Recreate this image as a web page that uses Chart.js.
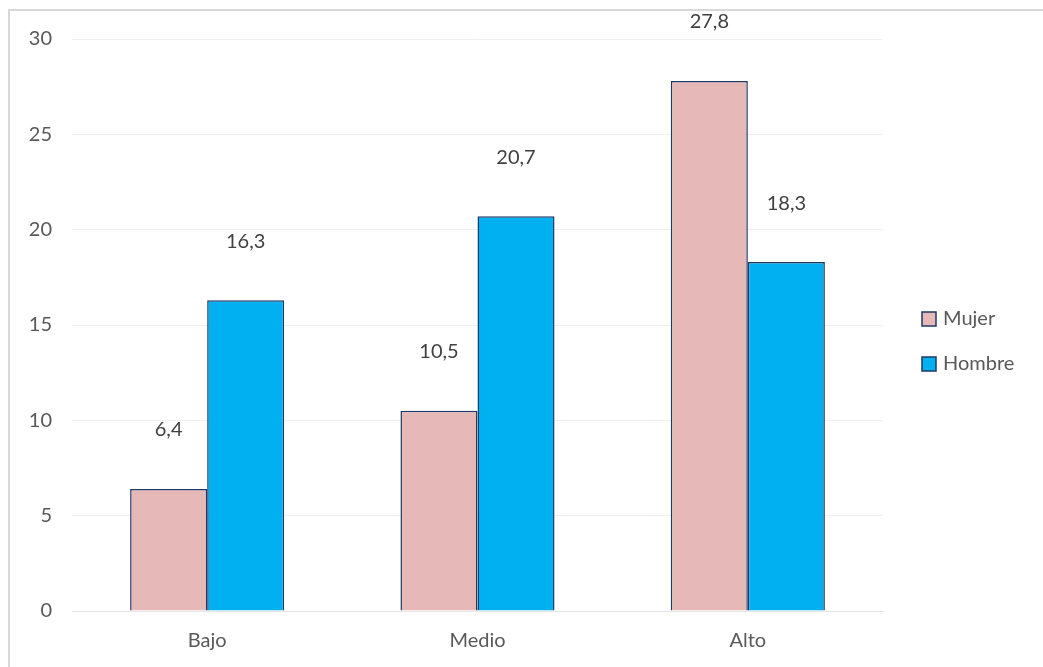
<!DOCTYPE html>
<html>
<head>
<meta charset="utf-8">
<script src="https://cdn.jsdelivr.net/npm/chart.js@4"></script>
<style>
html,body{margin:0;padding:0;background:#fff;}
#wrap{position:relative;width:1043px;height:667px;overflow:hidden;}
#frame{position:absolute;left:8px;top:9px;width:1100px;height:700px;border-left:2px solid #d9d9d9;border-top:2px solid #d9d9d9;box-sizing:border-box;}
canvas{position:absolute;left:0;top:0;}
</style>
</head>
<body>
<div id="wrap"><div id="frame"></div><canvas id="c" width="1043" height="667"></canvas></div>
<script>
const categories = ["Bajo", "Medio", "Alto"];
const seriesNames = ["Mujer", "Hombre"];
const mujer = [6.4, 10.5, 27.8];
const hombre = [16.3, 20.7, 18.3];
const yTicks = [0, 5, 10, 15, 20, 25, 30];

const FONT = "Lato, 'Noto Sans', sans-serif";
const colors = ["#E6B9B8", "#00B0F0"];
const borderCol = "#1F3864";

const labelPlugin = {
  id: "valueLabels",
  afterDatasetsDraw(chart) {
    const ctx = chart.ctx;
    ctx.save();
    ctx.font = "20px " + FONT;
    ctx.fillStyle = "#404040";
    ctx.textAlign = "center";
    ctx.textBaseline = "middle";
    chart.data.datasets.forEach((ds, i) => {
      const meta = chart.getDatasetMeta(i);
      meta.data.forEach((bar, j) => {
        const txt = ds.data[j].toFixed(1).replace(".", ",");
        ctx.fillText(txt, bar.x, bar.y - 59);
      });
    });
    ctx.restore();
  }
};

const legendPlugin = {
  id: "customLegend",
  afterDraw(chart) {
    const ctx = chart.ctx;
    ctx.save();
    ctx.font = "20px " + FONT;
    ctx.textBaseline = "middle";
    ctx.textAlign = "left";
    chart.data.datasets.forEach((ds, i) => {
      const y = 319 + i * 45;
      ctx.fillStyle = ds.backgroundColor;
      ctx.fillRect(922, y - 7, 14, 14);
      ctx.strokeStyle = borderCol;
      ctx.lineWidth = 1.5;
      ctx.strokeRect(922, y - 7, 14, 14);
      ctx.fillStyle = "#595959";
      ctx.fillText(ds.label, 943, y);
    });
    ctx.restore();
  }
};

new Chart(document.getElementById("c"), {
  type: "bar",
  data: {
    labels: categories,
    datasets: [
      { label: seriesNames[0], data: mujer, backgroundColor: colors[0], borderColor: borderCol, borderWidth: 1.5, categoryPercentage: 0.57, barPercentage: 1 },
      { label: seriesNames[1], data: hombre, backgroundColor: colors[1], borderColor: borderCol, borderWidth: 1.5, categoryPercentage: 0.57, barPercentage: 1 }
    ]
  },
  options: {
    responsive: false,
    animation: false,
    devicePixelRatio: 1,
    layout: { padding: { top: 39, right: 160, bottom: 0, left: 0 } },
    plugins: { legend: { display: false }, tooltip: { enabled: false } },
    scales: {
      x: {
        grid: { display: false, drawTicks: false },
        border: { display: true, color: "#e6e6e6", width: 1 },
        ticks: { color: "#595959", font: { family: FONT, size: 20 }, padding: 18 },
        afterFit(s) { s.height = 56; }
      },
      y: {
        min: 0, max: 30,
        afterBuildTicks(s) { s.ticks = yTicks.map(v => ({ value: v })); },
        grid: { color: "#efefef", lineWidth: 1, drawTicks: false },
        border: { display: false },
        ticks: { color: "#595959", font: { family: FONT, size: 20 }, padding: 20 },
        afterFit(s) { s.width = 72; }
      }
    }
  },
  plugins: [labelPlugin, legendPlugin]
});
</script>
</body>
</html>
